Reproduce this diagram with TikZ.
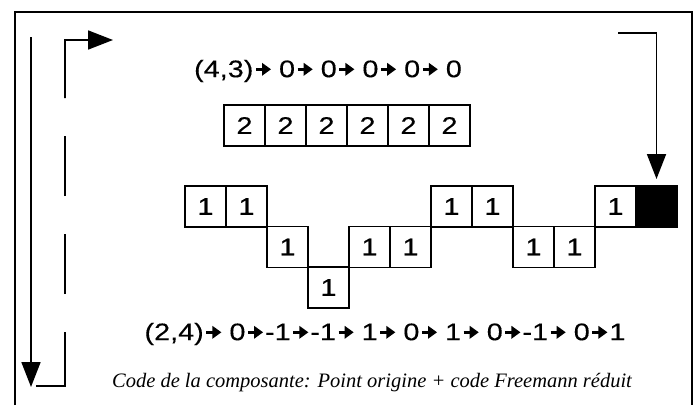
\documentclass[tikz,border=0pt]{standalone}
\usepackage{fontspec}
\setmainfont{Liberation Serif}
\setsansfont{Liberation Sans}
\newfontfamily\codefont{Liberation Sans}[FakeBold=0.25]
\usetikzlibrary{arrows.meta,positioning}

% short heavy arrow used inside the code strings
\newcommand\fa{\hspace{0.5pt}\tikz[baseline=-0.33em]\draw[line width=3.4pt,-{Triangle[length=7.5pt,width=12.5pt]}] (0pt,0pt)--(12.5pt,0pt);}
\newcommand\gapsp{\hspace{5pt}}
\newcommand\stretchtxt[1]{\scalebox{1.2}[1]{#1}}

\begin{document}
\begin{tikzpicture}[
  x=1pt, y=-1pt,
  cell/.style={draw, line width=1.5pt, minimum width=41pt, minimum height=41pt,
    inner sep=0pt, outer sep=0pt, font=\codefont\fontsize{24}{24}\selectfont},
  code/.style={font=\codefont\fontsize{24}{24}\selectfont, inner sep=0pt},
  bigarr/.style={line width=1.8pt, -{Triangle[length=25pt,width=19pt]}}
]
\useasboundingbox (0,0) rectangle (700,407);

% frame (open at the bottom)
\draw[line width=1.8pt] (15,405) -- (15,12) -- (692,12) -- (692,405);

% code strings
\node[code] (top) at (328,71) {\stretchtxt{(4,3)\fa\gapsp 0\fa\gapsp 0\fa\gapsp 0\fa\gapsp 0\fa\gapsp 0}};
\node[code] (bot) at (385,334) {\stretchtxt{(2,4)\fa\gapsp 0\fa-1\fa-1\fa\gapsp 1\fa\gapsp 0\fa\gapsp 1\fa\gapsp 0\fa-1\fa\gapsp 0\fa1}};
\node[font=\itshape\fontsize{20.5}{20.5}\selectfont, inner sep=0pt] (cap) at (372,383)
  {Code de la composante: Point origine + code Freemann réduit};

% row of 2s
\node[cell] (d1) at (244.5,125.5) {\stretchtxt{2}};
\foreach \i [count=\j from 1] in {2,...,6}
  \node[cell, right=0pt of d\j] (d\i) {\stretchtxt{2}};

% contour cells: column/row
\foreach \c/\r in {0/0,1/0,6/0,7/0,10/0,2/1,4/1,5/1,8/1,9/1,3/2}
  \node[cell] (c\c-\r) at ({205.5+41*\c},{206.5+40.5*\r}) {\stretchtxt{1}};
\node[cell, fill=black] (blk) at (656.5,206.5) {};

% scan direction arrows
\coordinate (l1) at (31,37);
\coordinate (l2) at (31,387);
\draw[bigarr] (l1) -- (l2);

\coordinate (m1) at (36,386);
\coordinate (m2) at (65,386);
\coordinate (m3) at (65,332);
\coordinate (m4) at (65,98);
\coordinate (m5) at (65,40);
\coordinate (m6) at (113,40);
\draw[line width=1.8pt] (m1) -- (m2) -- (m3);
\draw[line width=1.8pt, dash pattern=on 60pt off 38pt, dash phase=60pt] (m3) -- (m4);
\draw[bigarr] (m4) -- (m5) -- (m6);

\coordinate (r1) at (618,33);
\coordinate (r2) at (656.5,33);
\draw[bigarr, shorten >=7pt] (r1) -- (r2) -- (blk.north);
\end{tikzpicture}
\end{document}
